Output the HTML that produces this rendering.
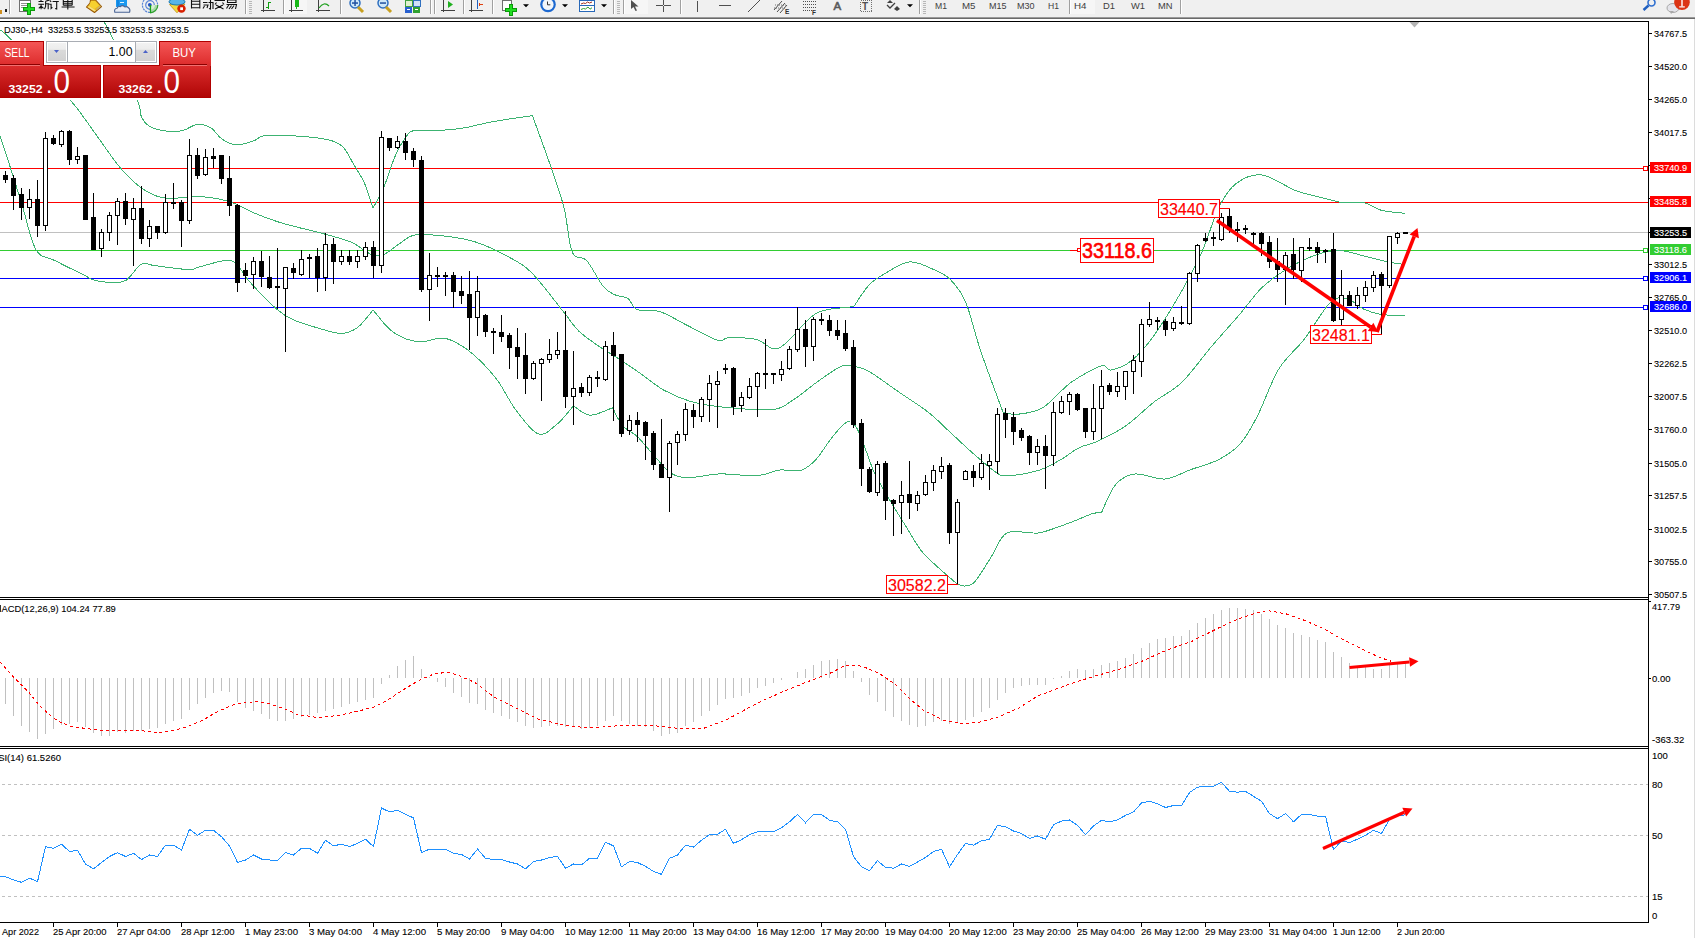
<!DOCTYPE html><html><head><meta charset="utf-8"><title>DJ30-,H4</title><style>
html,body{margin:0;padding:0;width:1695px;height:938px;overflow:hidden;background:#fff}
svg{display:block;position:absolute;left:0;top:0}
text{font-family:"Liberation Sans",sans-serif}
</style></head><body>
<svg width="1695" height="938" viewBox="0 0 1695 938">
<rect x="0" y="0" width="1695" height="938" fill="#ffffff"/>
<g shape-rendering="crispEdges"><rect x="0" y="168" width="1648" height="1" fill="#ff0000"/><rect x="0" y="202" width="1648" height="1" fill="#ff0000"/><rect x="0" y="232" width="1648" height="1" fill="#c0c0c0"/><rect x="0" y="250" width="1648" height="1" fill="#32cd32"/><rect x="0" y="278" width="1648" height="1" fill="#0000ff"/><rect x="0" y="307" width="1648" height="1" fill="#0000ff"/></g>
<g>
<path d="M104.0,22.0 C105.5,24.8 107.2,25.6 112.8,38.7 C118.4,51.8 132.8,87.4 137.6,100.4 C142.4,113.4 139.4,112.3 141.4,116.6 C143.4,120.9 145.5,123.9 149.7,126.3 C153.8,128.7 160.8,130.3 166.3,131.0 C171.8,131.7 177.8,131.6 182.9,130.5 C188.0,129.4 192.2,124.9 196.8,124.4 C201.4,123.9 206.4,125.3 210.6,127.7 C214.8,130.1 217.5,135.9 221.7,138.8 C225.9,141.7 230.2,144.6 235.6,144.9 C241.0,145.2 248.6,142.4 253.9,140.8 C259.2,139.2 257.1,135.7 267.7,135.2 C278.3,134.7 305.4,136.3 317.6,138.0 C329.9,139.7 335.2,141.1 341.2,145.5 C347.2,149.9 349.7,157.9 353.6,164.3 C357.5,170.7 361.5,176.4 364.7,183.7 C367.9,191.0 371.6,204.0 373.0,208.1 C374.9,204.5 380.4,195.2 384.1,186.5 C387.8,177.8 391.5,164.3 395.2,156.0 C398.9,147.7 403.1,140.8 406.3,136.6 C409.5,132.3 409.4,131.5 414.6,130.5 C419.8,129.5 429.2,131.0 437.3,130.6 C445.4,130.2 454.1,129.5 463.4,128.0 C472.7,126.5 481.7,123.6 493.2,121.6 C504.7,119.5 525.9,116.7 532.4,115.7 C535.5,124.3 545.7,151.7 551.0,167.1 C556.3,182.5 560.6,194.0 564.1,208.2 C567.6,222.4 568.6,243.5 572.3,252.2 C576.0,260.9 581.3,254.7 586.5,260.4 C591.7,266.1 598.6,280.8 603.3,286.5 C608.0,292.2 610.8,292.8 614.9,294.8 C619.0,296.8 624.3,296.0 628.0,298.5 C631.7,301.0 632.0,307.5 637.3,309.7 C642.6,311.9 651.6,309.1 659.7,311.6 C667.8,314.1 676.2,319.8 685.8,324.6 C695.4,329.4 710.4,338.1 717.5,340.3 C724.6,342.5 722.2,337.8 728.7,337.7 C735.2,337.6 749.2,337.7 756.7,339.6 C764.2,341.5 768.5,348.4 773.5,348.9 C778.5,349.4 780.7,347.5 786.6,342.5 C792.5,337.5 802.8,324.4 809.0,319.0 C815.2,313.6 816.4,312.4 823.9,310.4 C831.4,308.3 848.7,307.3 853.7,306.7 C856.2,303.1 863.7,290.8 868.7,285.4 C873.7,280.0 876.8,278.2 883.6,274.3 C890.4,270.4 901.0,262.5 909.7,261.9 C918.4,261.3 929.0,267.5 935.8,270.5 C942.6,273.5 945.7,274.6 950.7,279.9 C955.7,285.2 960.7,290.4 965.7,302.2 C970.7,314.0 974.4,332.3 980.6,350.7 C986.8,369.1 999.3,402.0 1003.0,412.3 C1005.5,412.6 1011.2,415.0 1017.9,414.2 C1024.6,413.4 1034.2,412.8 1043.0,407.5 C1051.8,402.2 1061.2,389.4 1070.9,382.5 C1080.6,375.6 1094.7,368.0 1101.4,365.9 C1108.1,363.8 1105.9,370.9 1111.0,370.0 C1116.1,369.1 1124.6,366.2 1131.8,360.4 C1139.0,354.6 1145.7,347.0 1154.0,335.4 C1162.3,323.8 1173.7,304.9 1181.7,291.0 C1189.7,277.1 1195.8,265.7 1202.0,251.7 C1208.2,237.7 1213.4,218.3 1219.1,206.9 C1224.8,195.5 1229.1,188.8 1236.2,183.5 C1243.3,178.2 1251.8,173.7 1261.7,174.9 C1271.7,176.1 1286.0,186.9 1295.9,190.7 C1305.9,194.5 1313.6,195.5 1321.4,197.5 C1329.2,199.5 1335.7,201.8 1342.8,202.6 C1349.9,203.4 1357.7,201.3 1364.1,202.6 C1370.5,203.9 1374.5,208.5 1381.2,210.3 C1388.0,212.1 1400.7,212.8 1404.6,213.3" fill="none" stroke="#3cb371" stroke-width="1" shape-rendering="crispEdges"/>
<path d="M0.0,30.0 C1.7,31.4 -1.5,27.0 10.0,38.5 C21.5,50.0 56.6,85.8 68.8,98.8 C81.0,111.8 78.4,110.4 83.1,116.6 C87.8,122.8 91.0,127.7 97.0,136.0 C103.0,144.3 112.3,158.2 119.2,166.5 C126.1,174.8 132.6,181.1 138.6,185.9 C144.6,190.8 149.7,193.5 155.2,195.6 C160.7,197.7 165.3,198.2 171.8,198.4 C178.3,198.6 186.6,196.5 194.0,196.5 C201.4,196.5 209.3,197.2 216.2,198.4 C223.1,199.6 229.3,201.5 235.6,203.9 C241.9,206.3 247.2,209.9 253.9,212.8 C260.6,215.7 269.1,218.9 276.0,221.2 C282.9,223.5 287.5,224.6 295.4,226.7 C303.2,228.8 313.9,231.0 323.1,233.6 C332.4,236.2 344.4,239.4 350.9,242.0 C357.4,244.6 358.3,246.6 362.0,248.9 C365.7,251.2 371.2,254.7 373.0,255.8 C374.9,255.6 379.9,256.2 384.1,254.4 C388.3,252.6 392.9,247.9 398.0,244.7 C403.1,241.5 407.1,236.4 414.9,235.0 C422.7,233.6 434.9,235.0 444.8,236.1 C454.8,237.2 464.7,238.6 474.6,241.7 C484.5,244.8 495.1,249.8 504.4,254.8 C513.7,259.8 520.5,262.0 530.5,271.6 C540.5,281.2 556.0,302.7 564.1,312.6 C572.2,322.6 573.0,325.6 579.0,331.3 C585.0,337.0 594.0,342.8 600.0,347.0 C606.0,351.2 608.7,352.2 614.9,356.3 C621.1,360.4 629.2,365.7 637.3,371.3 C645.4,376.9 654.7,384.9 663.4,389.9 C672.1,394.9 680.3,398.3 689.6,401.1 C698.9,403.9 705.7,405.3 719.4,406.7 C733.1,408.1 759.2,410.9 771.6,409.7 C784.0,408.5 786.5,403.8 794.0,399.3 C801.5,394.8 808.9,387.8 816.4,382.5 C823.9,377.2 833.2,370.3 838.8,367.5 C844.4,364.7 845.0,365.1 850.0,365.7 C855.0,366.3 860.6,366.9 868.7,371.3 C876.8,375.7 888.5,385.0 898.5,391.8 C908.5,398.6 919.7,405.5 928.4,412.3 C937.1,419.1 943.2,426.0 950.7,432.8 C958.2,439.6 965.6,446.9 973.1,453.4 C980.6,459.9 989.9,468.3 995.5,472.0 C1001.1,475.7 999.7,475.9 1006.7,475.7 C1013.7,475.5 1028.8,473.3 1037.6,470.7 C1046.4,468.1 1052.9,464.0 1059.8,460.2 C1066.7,456.4 1072.7,450.9 1079.2,447.7 C1085.7,444.5 1090.8,444.5 1098.6,440.8 C1106.4,437.1 1117.1,432.0 1126.3,425.5 C1135.5,419.0 1144.8,409.2 1154.0,402.0 C1163.2,394.8 1172.3,391.6 1181.7,382.5 C1191.1,373.4 1200.8,359.1 1210.6,347.6 C1220.4,336.1 1231.9,323.4 1240.4,313.5 C1248.9,303.6 1253.9,295.4 1261.7,287.9 C1269.5,280.4 1278.8,274.0 1287.3,268.7 C1295.8,263.4 1304.4,259.1 1312.9,256.0 C1321.4,252.9 1329.2,250.2 1338.5,250.4 C1347.8,250.6 1359.9,255.2 1368.4,257.2 C1376.9,259.2 1383.7,261.1 1389.7,262.3 C1395.7,263.5 1402.1,264.1 1404.6,264.5" fill="none" stroke="#3cb371" stroke-width="1" shape-rendering="crispEdges"/>
<path d="M0.0,136.0 C1.4,140.2 4.6,149.4 8.3,161.0 C12.0,172.6 17.6,190.5 22.2,205.3 C26.8,220.1 30.5,240.4 36.0,249.7 C41.5,258.9 47.5,256.6 55.4,260.8 C63.2,265.0 76.6,271.4 83.1,274.6 C89.6,277.8 89.6,278.9 94.2,280.2 C98.8,281.5 105.6,282.4 110.9,282.4 C116.2,282.4 121.0,283.2 126.1,280.2 C131.2,277.1 136.6,266.5 141.4,264.1 C146.2,261.7 147.3,264.8 155.2,265.7 C163.0,266.6 181.1,269.4 188.5,269.6 C195.9,269.8 193.1,268.5 199.6,266.9 C206.1,265.3 220.8,260.3 227.3,260.2 C233.8,260.1 234.7,262.8 238.4,266.3 C242.1,269.9 243.1,274.5 249.4,281.5 C255.7,288.5 268.8,302.1 276.0,308.5 C283.2,314.9 285.8,316.4 292.7,319.6 C299.6,322.8 309.5,325.6 317.6,327.9 C325.7,330.2 334.5,333.5 341.2,333.4 C347.9,333.3 352.5,331.2 357.8,327.3 C363.1,323.4 370.5,312.8 373.0,309.9 C375.8,313.1 384.1,324.4 389.7,329.3 C395.2,334.2 400.8,336.9 406.3,339.0 C411.9,341.1 417.2,341.9 423.0,341.7 C428.8,341.5 435.5,337.9 441.0,338.0 C446.5,338.1 450.4,339.5 456.0,342.4 C461.6,345.3 467.8,349.3 474.6,355.5 C481.4,361.7 490.2,370.7 497.0,379.7 C503.8,388.7 508.8,400.6 515.6,409.6 C522.4,418.6 531.1,431.3 538.0,433.8 C544.9,436.3 550.8,429.1 556.7,424.5 C562.6,419.9 570.6,409.0 573.4,405.9 C576.2,407.4 583.7,414.9 590.2,415.2 C596.7,415.5 608.9,408.9 612.6,407.7 C614.2,410.6 618.3,420.6 622.4,425.4 C626.5,430.2 632.3,431.9 637.3,436.6 C642.3,441.3 646.6,447.3 652.2,453.4 C657.8,459.5 664.7,469.1 670.9,473.1 C677.1,477.1 681.5,477.5 689.6,477.6 C697.7,477.7 708.2,474.2 719.4,473.9 C730.6,473.6 746.8,476.3 756.7,475.7 C766.7,475.1 771.6,471.0 779.1,470.1 C786.6,469.2 795.3,472.0 801.5,470.1 C807.7,468.2 811.4,464.3 816.4,459.0 C821.4,453.7 826.3,444.5 831.3,438.4 C836.3,432.3 842.2,424.3 846.3,422.4 C850.4,420.4 852.9,422.4 856.0,426.7 C859.1,431.0 861.9,440.3 865.0,448.0 C868.1,455.7 870.6,464.7 874.5,473.0 C878.4,481.3 883.2,489.0 888.4,497.8 C893.5,506.6 900.0,516.9 905.4,525.6 C910.8,534.4 915.8,543.6 920.9,550.3 C926.0,557.0 931.7,561.4 936.3,565.8 C940.9,570.2 945.2,573.6 948.7,576.6 C952.2,579.6 954.8,582.4 957.5,584.0 C960.2,585.6 962.1,586.4 965.0,586.0 C967.9,585.6 970.5,586.5 975.0,581.5 C979.5,576.5 986.5,564.1 991.8,556.0 C997.1,547.9 999.3,536.8 1007.0,533.0 C1014.7,529.2 1029.5,534.0 1038.0,533.0 C1046.5,532.0 1051.3,529.2 1058.0,527.0 C1064.7,524.8 1072.2,521.8 1078.0,519.5 C1083.8,517.2 1089.1,514.6 1093.0,513.5 C1096.9,512.4 1100.0,512.9 1101.4,512.8 C1103.7,508.2 1109.7,491.6 1115.2,485.1 C1120.7,478.6 1126.3,475.0 1134.6,474.0 C1142.9,473.0 1155.8,479.7 1165.0,479.0 C1174.2,478.3 1181.0,473.2 1190.0,469.9 C1199.0,466.6 1210.7,463.8 1219.1,459.4 C1227.5,455.0 1234.0,450.9 1240.4,443.6 C1246.8,436.4 1251.1,428.3 1257.5,415.9 C1263.9,403.5 1271.0,381.8 1278.8,369.0 C1286.6,356.2 1295.9,350.1 1304.4,339.1 C1312.9,328.1 1322.9,309.6 1330.0,302.9 C1337.1,296.1 1341.3,297.5 1347.0,298.6 C1352.7,299.7 1358.4,306.7 1364.1,309.3 C1369.8,311.9 1374.5,313.3 1381.2,314.4 C1388.0,315.5 1400.7,315.5 1404.6,315.7" fill="none" stroke="#3cb371" stroke-width="1" shape-rendering="crispEdges"/>
</g>
<g shape-rendering="crispEdges"><rect x="5" y="171" width="1" height="12" fill="#000"/><rect x="3" y="175" width="5" height="5" fill="#000"/><rect x="13" y="175" width="1" height="35" fill="#000"/><rect x="11" y="178" width="5" height="18" fill="#000"/><rect x="21" y="188" width="1" height="32" fill="#000"/><rect x="19" y="194" width="5" height="14" fill="#000"/><rect x="29" y="189" width="1" height="30" fill="#000"/><rect x="27" y="199" width="5" height="9" fill="#000"/><rect x="28" y="200" width="3" height="7" fill="#fff"/><rect x="37" y="180" width="1" height="57" fill="#000"/><rect x="35" y="199" width="5" height="27" fill="#000"/><rect x="45" y="132" width="1" height="99" fill="#000"/><rect x="43" y="138" width="5" height="88" fill="#000"/><rect x="44" y="139" width="3" height="86" fill="#fff"/><rect x="53" y="135" width="1" height="10" fill="#000"/><rect x="51" y="138" width="5" height="6" fill="#000"/><rect x="61" y="130" width="1" height="17" fill="#000"/><rect x="59" y="131" width="5" height="14" fill="#000"/><rect x="60" y="132" width="3" height="12" fill="#fff"/><rect x="69" y="130" width="1" height="35" fill="#000"/><rect x="67" y="131" width="5" height="29" fill="#000"/><rect x="77" y="147" width="1" height="17" fill="#000"/><rect x="75" y="156" width="5" height="4" fill="#000"/><rect x="76" y="157" width="3" height="2" fill="#fff"/><rect x="85" y="155" width="1" height="65" fill="#000"/><rect x="83" y="155" width="5" height="65" fill="#000"/><rect x="93" y="193" width="1" height="57" fill="#000"/><rect x="91" y="217" width="5" height="33" fill="#000"/><rect x="101" y="229" width="1" height="28" fill="#000"/><rect x="99" y="232" width="5" height="17" fill="#000"/><rect x="100" y="233" width="3" height="15" fill="#fff"/><rect x="109" y="212" width="1" height="29" fill="#000"/><rect x="107" y="215" width="5" height="18" fill="#000"/><rect x="108" y="216" width="3" height="16" fill="#fff"/><rect x="117" y="198" width="1" height="47" fill="#000"/><rect x="115" y="201" width="5" height="15" fill="#000"/><rect x="116" y="202" width="3" height="13" fill="#fff"/><rect x="125" y="193" width="1" height="32" fill="#000"/><rect x="123" y="201" width="5" height="18" fill="#000"/><rect x="133" y="198" width="1" height="68" fill="#000"/><rect x="131" y="208" width="5" height="12" fill="#000"/><rect x="132" y="209" width="3" height="10" fill="#fff"/><rect x="141" y="186" width="1" height="58" fill="#000"/><rect x="139" y="208" width="5" height="31" fill="#000"/><rect x="149" y="220" width="1" height="27" fill="#000"/><rect x="147" y="226" width="5" height="13" fill="#000"/><rect x="148" y="227" width="3" height="11" fill="#fff"/><rect x="157" y="226" width="1" height="13" fill="#000"/><rect x="155" y="226" width="5" height="7" fill="#000"/><rect x="165" y="194" width="1" height="40" fill="#000"/><rect x="163" y="202" width="5" height="31" fill="#000"/><rect x="164" y="203" width="3" height="29" fill="#fff"/><rect x="173" y="183" width="1" height="26" fill="#000"/><rect x="171" y="202" width="5" height="2" fill="#000"/><rect x="181" y="200" width="1" height="47" fill="#000"/><rect x="179" y="202" width="5" height="19" fill="#000"/><rect x="189" y="139" width="1" height="85" fill="#000"/><rect x="187" y="155" width="5" height="66" fill="#000"/><rect x="188" y="156" width="3" height="64" fill="#fff"/><rect x="197" y="148" width="1" height="31" fill="#000"/><rect x="195" y="155" width="5" height="21" fill="#000"/><rect x="205" y="149" width="1" height="27" fill="#000"/><rect x="203" y="157" width="5" height="18" fill="#000"/><rect x="204" y="158" width="3" height="16" fill="#fff"/><rect x="213" y="148" width="1" height="20" fill="#000"/><rect x="211" y="156" width="5" height="3" fill="#000"/><rect x="221" y="155" width="1" height="29" fill="#000"/><rect x="219" y="155" width="5" height="24" fill="#000"/><rect x="229" y="156" width="1" height="60" fill="#000"/><rect x="227" y="178" width="5" height="28" fill="#000"/><rect x="237" y="204" width="1" height="88" fill="#000"/><rect x="235" y="205" width="5" height="78" fill="#000"/><rect x="245" y="263" width="1" height="20" fill="#000"/><rect x="243" y="270" width="5" height="6" fill="#000"/><rect x="253" y="257" width="1" height="32" fill="#000"/><rect x="251" y="261" width="5" height="14" fill="#000"/><rect x="252" y="262" width="3" height="12" fill="#fff"/><rect x="261" y="251" width="1" height="36" fill="#000"/><rect x="259" y="261" width="5" height="16" fill="#000"/><rect x="269" y="256" width="1" height="33" fill="#000"/><rect x="267" y="277" width="5" height="11" fill="#000"/><rect x="277" y="248" width="1" height="61" fill="#000"/><rect x="275" y="286" width="5" height="2" fill="#000"/><rect x="285" y="267" width="1" height="85" fill="#000"/><rect x="283" y="267" width="5" height="22" fill="#000"/><rect x="284" y="268" width="3" height="20" fill="#fff"/><rect x="293" y="263" width="1" height="16" fill="#000"/><rect x="291" y="268" width="5" height="5" fill="#000"/><rect x="301" y="250" width="1" height="26" fill="#000"/><rect x="299" y="259" width="5" height="16" fill="#000"/><rect x="300" y="260" width="3" height="14" fill="#fff"/><rect x="309" y="254" width="1" height="24" fill="#000"/><rect x="307" y="257" width="5" height="2" fill="#000"/><rect x="317" y="248" width="1" height="44" fill="#000"/><rect x="315" y="256" width="5" height="22" fill="#000"/><rect x="325" y="233" width="1" height="58" fill="#000"/><rect x="323" y="244" width="5" height="34" fill="#000"/><rect x="324" y="245" width="3" height="32" fill="#fff"/><rect x="333" y="238" width="1" height="46" fill="#000"/><rect x="331" y="244" width="5" height="18" fill="#000"/><rect x="341" y="250" width="1" height="15" fill="#000"/><rect x="339" y="256" width="5" height="6" fill="#000"/><rect x="340" y="257" width="3" height="4" fill="#fff"/><rect x="349" y="250" width="1" height="15" fill="#000"/><rect x="347" y="256" width="5" height="6" fill="#000"/><rect x="357" y="250" width="1" height="18" fill="#000"/><rect x="355" y="256" width="5" height="6" fill="#000"/><rect x="356" y="257" width="3" height="4" fill="#fff"/><rect x="365" y="242" width="1" height="18" fill="#000"/><rect x="363" y="247" width="5" height="10" fill="#000"/><rect x="364" y="248" width="3" height="8" fill="#fff"/><rect x="373" y="241" width="1" height="37" fill="#000"/><rect x="371" y="247" width="5" height="19" fill="#000"/><rect x="381" y="131" width="1" height="142" fill="#000"/><rect x="379" y="137" width="5" height="129" fill="#000"/><rect x="380" y="138" width="3" height="127" fill="#fff"/><rect x="389" y="138" width="1" height="13" fill="#000"/><rect x="387" y="138" width="5" height="10" fill="#000"/><rect x="397" y="136" width="1" height="13" fill="#000"/><rect x="395" y="141" width="5" height="7" fill="#000"/><rect x="396" y="142" width="3" height="5" fill="#fff"/><rect x="405" y="133" width="1" height="27" fill="#000"/><rect x="403" y="141" width="5" height="12" fill="#000"/><rect x="413" y="148" width="1" height="19" fill="#000"/><rect x="411" y="151" width="5" height="9" fill="#000"/><rect x="421" y="156" width="1" height="136" fill="#000"/><rect x="419" y="160" width="5" height="130" fill="#000"/><rect x="429" y="253" width="1" height="68" fill="#000"/><rect x="427" y="275" width="5" height="15" fill="#000"/><rect x="428" y="276" width="3" height="13" fill="#fff"/><rect x="437" y="267" width="1" height="20" fill="#000"/><rect x="435" y="275" width="5" height="2" fill="#000"/><rect x="445" y="272" width="1" height="24" fill="#000"/><rect x="443" y="275" width="5" height="2" fill="#000"/><rect x="453" y="272" width="1" height="36" fill="#000"/><rect x="451" y="275" width="5" height="17" fill="#000"/><rect x="461" y="276" width="1" height="28" fill="#000"/><rect x="459" y="291" width="5" height="5" fill="#000"/><rect x="469" y="271" width="1" height="79" fill="#000"/><rect x="467" y="294" width="5" height="24" fill="#000"/><rect x="477" y="276" width="1" height="60" fill="#000"/><rect x="475" y="291" width="5" height="27" fill="#000"/><rect x="476" y="292" width="3" height="25" fill="#fff"/><rect x="485" y="314" width="1" height="23" fill="#000"/><rect x="483" y="315" width="5" height="17" fill="#000"/><rect x="493" y="328" width="1" height="26" fill="#000"/><rect x="491" y="331" width="5" height="2" fill="#000"/><rect x="501" y="315" width="1" height="27" fill="#000"/><rect x="499" y="332" width="5" height="5" fill="#000"/><rect x="509" y="333" width="1" height="36" fill="#000"/><rect x="507" y="335" width="5" height="13" fill="#000"/><rect x="517" y="328" width="1" height="51" fill="#000"/><rect x="515" y="347" width="5" height="10" fill="#000"/><rect x="525" y="333" width="1" height="61" fill="#000"/><rect x="523" y="355" width="5" height="24" fill="#000"/><rect x="533" y="361" width="1" height="19" fill="#000"/><rect x="531" y="363" width="5" height="16" fill="#000"/><rect x="532" y="364" width="3" height="14" fill="#fff"/><rect x="541" y="358" width="1" height="43" fill="#000"/><rect x="539" y="359" width="5" height="5" fill="#000"/><rect x="540" y="360" width="3" height="3" fill="#fff"/><rect x="549" y="339" width="1" height="24" fill="#000"/><rect x="547" y="354" width="5" height="6" fill="#000"/><rect x="548" y="355" width="3" height="4" fill="#fff"/><rect x="557" y="332" width="1" height="27" fill="#000"/><rect x="555" y="350" width="5" height="5" fill="#000"/><rect x="556" y="351" width="3" height="3" fill="#fff"/><rect x="565" y="311" width="1" height="97" fill="#000"/><rect x="563" y="350" width="5" height="47" fill="#000"/><rect x="573" y="351" width="1" height="74" fill="#000"/><rect x="571" y="388" width="5" height="9" fill="#000"/><rect x="572" y="389" width="3" height="7" fill="#fff"/><rect x="581" y="383" width="1" height="14" fill="#000"/><rect x="579" y="387" width="5" height="6" fill="#000"/><rect x="589" y="375" width="1" height="21" fill="#000"/><rect x="587" y="377" width="5" height="16" fill="#000"/><rect x="588" y="378" width="3" height="14" fill="#fff"/><rect x="597" y="371" width="1" height="16" fill="#000"/><rect x="595" y="377" width="5" height="2" fill="#000"/><rect x="605" y="341" width="1" height="40" fill="#000"/><rect x="603" y="346" width="5" height="34" fill="#000"/><rect x="604" y="347" width="3" height="32" fill="#fff"/><rect x="613" y="332" width="1" height="89" fill="#000"/><rect x="611" y="345" width="5" height="11" fill="#000"/><rect x="621" y="354" width="1" height="83" fill="#000"/><rect x="619" y="354" width="5" height="80" fill="#000"/><rect x="629" y="415" width="1" height="20" fill="#000"/><rect x="627" y="420" width="5" height="11" fill="#000"/><rect x="628" y="421" width="3" height="9" fill="#fff"/><rect x="637" y="412" width="1" height="30" fill="#000"/><rect x="635" y="420" width="5" height="5" fill="#000"/><rect x="645" y="421" width="1" height="39" fill="#000"/><rect x="643" y="422" width="5" height="14" fill="#000"/><rect x="653" y="431" width="1" height="39" fill="#000"/><rect x="651" y="433" width="5" height="32" fill="#000"/><rect x="661" y="419" width="1" height="59" fill="#000"/><rect x="659" y="464" width="5" height="14" fill="#000"/><rect x="669" y="441" width="1" height="71" fill="#000"/><rect x="667" y="443" width="5" height="35" fill="#000"/><rect x="668" y="444" width="3" height="33" fill="#fff"/><rect x="677" y="431" width="1" height="34" fill="#000"/><rect x="675" y="434" width="5" height="9" fill="#000"/><rect x="676" y="435" width="3" height="7" fill="#fff"/><rect x="685" y="403" width="1" height="38" fill="#000"/><rect x="683" y="409" width="5" height="26" fill="#000"/><rect x="684" y="410" width="3" height="24" fill="#fff"/><rect x="693" y="404" width="1" height="24" fill="#000"/><rect x="691" y="410" width="5" height="7" fill="#000"/><rect x="701" y="397" width="1" height="25" fill="#000"/><rect x="699" y="399" width="5" height="18" fill="#000"/><rect x="700" y="400" width="3" height="16" fill="#fff"/><rect x="709" y="375" width="1" height="47" fill="#000"/><rect x="707" y="383" width="5" height="17" fill="#000"/><rect x="708" y="384" width="3" height="15" fill="#fff"/><rect x="717" y="371" width="1" height="57" fill="#000"/><rect x="715" y="381" width="5" height="4" fill="#000"/><rect x="716" y="382" width="3" height="2" fill="#fff"/><rect x="725" y="364" width="1" height="10" fill="#000"/><rect x="723" y="368" width="5" height="2" fill="#000"/><rect x="733" y="367" width="1" height="48" fill="#000"/><rect x="731" y="368" width="5" height="39" fill="#000"/><rect x="741" y="392" width="1" height="20" fill="#000"/><rect x="739" y="397" width="5" height="9" fill="#000"/><rect x="740" y="398" width="3" height="7" fill="#fff"/><rect x="749" y="378" width="1" height="21" fill="#000"/><rect x="747" y="386" width="5" height="12" fill="#000"/><rect x="748" y="387" width="3" height="10" fill="#fff"/><rect x="757" y="372" width="1" height="45" fill="#000"/><rect x="755" y="373" width="5" height="14" fill="#000"/><rect x="756" y="374" width="3" height="12" fill="#fff"/><rect x="765" y="339" width="1" height="50" fill="#000"/><rect x="763" y="373" width="5" height="2" fill="#000"/><rect x="773" y="373" width="1" height="11" fill="#000"/><rect x="771" y="373" width="5" height="2" fill="#000"/><rect x="781" y="361" width="1" height="20" fill="#000"/><rect x="779" y="369" width="5" height="6" fill="#000"/><rect x="780" y="370" width="3" height="4" fill="#fff"/><rect x="789" y="346" width="1" height="24" fill="#000"/><rect x="787" y="349" width="5" height="20" fill="#000"/><rect x="788" y="350" width="3" height="18" fill="#fff"/><rect x="797" y="307" width="1" height="45" fill="#000"/><rect x="795" y="329" width="5" height="21" fill="#000"/><rect x="796" y="330" width="3" height="19" fill="#fff"/><rect x="805" y="320" width="1" height="47" fill="#000"/><rect x="803" y="329" width="5" height="18" fill="#000"/><rect x="813" y="317" width="1" height="44" fill="#000"/><rect x="811" y="319" width="5" height="28" fill="#000"/><rect x="812" y="320" width="3" height="26" fill="#fff"/><rect x="821" y="313" width="1" height="12" fill="#000"/><rect x="819" y="319" width="5" height="2" fill="#000"/><rect x="829" y="315" width="1" height="21" fill="#000"/><rect x="827" y="320" width="5" height="11" fill="#000"/><rect x="837" y="320" width="1" height="20" fill="#000"/><rect x="835" y="330" width="5" height="6" fill="#000"/><rect x="845" y="320" width="1" height="31" fill="#000"/><rect x="843" y="333" width="5" height="16" fill="#000"/><rect x="853" y="340" width="1" height="88" fill="#000"/><rect x="851" y="347" width="5" height="78" fill="#000"/><rect x="861" y="419" width="1" height="67" fill="#000"/><rect x="859" y="423" width="5" height="46" fill="#000"/><rect x="869" y="467" width="1" height="26" fill="#000"/><rect x="867" y="469" width="5" height="23" fill="#000"/><rect x="877" y="461" width="1" height="35" fill="#000"/><rect x="875" y="464" width="5" height="29" fill="#000"/><rect x="876" y="465" width="3" height="27" fill="#fff"/><rect x="885" y="461" width="1" height="59" fill="#000"/><rect x="883" y="463" width="5" height="38" fill="#000"/><rect x="893" y="499" width="1" height="37" fill="#000"/><rect x="891" y="500" width="5" height="4" fill="#000"/><rect x="901" y="481" width="1" height="53" fill="#000"/><rect x="899" y="495" width="5" height="8" fill="#000"/><rect x="900" y="496" width="3" height="6" fill="#fff"/><rect x="909" y="461" width="1" height="58" fill="#000"/><rect x="907" y="494" width="5" height="9" fill="#000"/><rect x="917" y="491" width="1" height="20" fill="#000"/><rect x="915" y="495" width="5" height="9" fill="#000"/><rect x="916" y="496" width="3" height="7" fill="#fff"/><rect x="925" y="475" width="1" height="21" fill="#000"/><rect x="923" y="482" width="5" height="13" fill="#000"/><rect x="924" y="483" width="3" height="11" fill="#fff"/><rect x="933" y="465" width="1" height="26" fill="#000"/><rect x="931" y="470" width="5" height="13" fill="#000"/><rect x="932" y="471" width="3" height="11" fill="#fff"/><rect x="941" y="457" width="1" height="22" fill="#000"/><rect x="939" y="466" width="5" height="6" fill="#000"/><rect x="940" y="467" width="3" height="4" fill="#fff"/><rect x="949" y="463" width="1" height="81" fill="#000"/><rect x="947" y="465" width="5" height="68" fill="#000"/><rect x="957" y="499" width="1" height="86" fill="#000"/><rect x="955" y="502" width="5" height="31" fill="#000"/><rect x="956" y="503" width="3" height="29" fill="#fff"/><rect x="965" y="470" width="1" height="10" fill="#000"/><rect x="963" y="471" width="5" height="9" fill="#000"/><rect x="964" y="472" width="3" height="7" fill="#fff"/><rect x="973" y="465" width="1" height="22" fill="#000"/><rect x="971" y="471" width="5" height="7" fill="#000"/><rect x="981" y="454" width="1" height="26" fill="#000"/><rect x="979" y="463" width="5" height="15" fill="#000"/><rect x="980" y="464" width="3" height="13" fill="#fff"/><rect x="989" y="454" width="1" height="36" fill="#000"/><rect x="987" y="461" width="5" height="5" fill="#000"/><rect x="988" y="462" width="3" height="3" fill="#fff"/><rect x="997" y="408" width="1" height="66" fill="#000"/><rect x="995" y="414" width="5" height="48" fill="#000"/><rect x="996" y="415" width="3" height="46" fill="#fff"/><rect x="1005" y="408" width="1" height="30" fill="#000"/><rect x="1003" y="413" width="5" height="7" fill="#000"/><rect x="1013" y="412" width="1" height="33" fill="#000"/><rect x="1011" y="417" width="5" height="15" fill="#000"/><rect x="1021" y="428" width="1" height="13" fill="#000"/><rect x="1019" y="430" width="5" height="8" fill="#000"/><rect x="1029" y="435" width="1" height="30" fill="#000"/><rect x="1027" y="436" width="5" height="17" fill="#000"/><rect x="1037" y="439" width="1" height="26" fill="#000"/><rect x="1035" y="446" width="5" height="7" fill="#000"/><rect x="1036" y="447" width="3" height="5" fill="#fff"/><rect x="1045" y="435" width="1" height="54" fill="#000"/><rect x="1043" y="446" width="5" height="10" fill="#000"/><rect x="1053" y="402" width="1" height="64" fill="#000"/><rect x="1051" y="412" width="5" height="44" fill="#000"/><rect x="1052" y="413" width="3" height="42" fill="#fff"/><rect x="1061" y="396" width="1" height="18" fill="#000"/><rect x="1059" y="401" width="5" height="12" fill="#000"/><rect x="1060" y="402" width="3" height="10" fill="#fff"/><rect x="1069" y="392" width="1" height="23" fill="#000"/><rect x="1067" y="394" width="5" height="8" fill="#000"/><rect x="1068" y="395" width="3" height="6" fill="#fff"/><rect x="1077" y="393" width="1" height="18" fill="#000"/><rect x="1075" y="394" width="5" height="16" fill="#000"/><rect x="1085" y="408" width="1" height="30" fill="#000"/><rect x="1083" y="408" width="5" height="24" fill="#000"/><rect x="1093" y="384" width="1" height="56" fill="#000"/><rect x="1091" y="408" width="5" height="24" fill="#000"/><rect x="1092" y="409" width="3" height="22" fill="#fff"/><rect x="1101" y="370" width="1" height="69" fill="#000"/><rect x="1099" y="386" width="5" height="23" fill="#000"/><rect x="1100" y="387" width="3" height="21" fill="#fff"/><rect x="1109" y="383" width="1" height="12" fill="#000"/><rect x="1107" y="385" width="5" height="7" fill="#000"/><rect x="1117" y="372" width="1" height="25" fill="#000"/><rect x="1115" y="386" width="5" height="6" fill="#000"/><rect x="1116" y="387" width="3" height="4" fill="#fff"/><rect x="1125" y="371" width="1" height="29" fill="#000"/><rect x="1123" y="371" width="5" height="16" fill="#000"/><rect x="1124" y="372" width="3" height="14" fill="#fff"/><rect x="1133" y="355" width="1" height="39" fill="#000"/><rect x="1131" y="360" width="5" height="12" fill="#000"/><rect x="1132" y="361" width="3" height="10" fill="#fff"/><rect x="1141" y="319" width="1" height="58" fill="#000"/><rect x="1139" y="324" width="5" height="38" fill="#000"/><rect x="1140" y="325" width="3" height="36" fill="#fff"/><rect x="1149" y="302" width="1" height="25" fill="#000"/><rect x="1147" y="319" width="5" height="6" fill="#000"/><rect x="1148" y="320" width="3" height="4" fill="#fff"/><rect x="1157" y="317" width="1" height="13" fill="#000"/><rect x="1155" y="320" width="5" height="2" fill="#000"/><rect x="1165" y="319" width="1" height="17" fill="#000"/><rect x="1163" y="321" width="5" height="9" fill="#000"/><rect x="1173" y="317" width="1" height="14" fill="#000"/><rect x="1171" y="322" width="5" height="7" fill="#000"/><rect x="1172" y="323" width="3" height="5" fill="#fff"/><rect x="1181" y="306" width="1" height="19" fill="#000"/><rect x="1179" y="322" width="5" height="2" fill="#000"/><rect x="1189" y="272" width="1" height="53" fill="#000"/><rect x="1187" y="273" width="5" height="51" fill="#000"/><rect x="1188" y="274" width="3" height="49" fill="#fff"/><rect x="1197" y="244" width="1" height="38" fill="#000"/><rect x="1195" y="245" width="5" height="29" fill="#000"/><rect x="1196" y="246" width="3" height="27" fill="#fff"/><rect x="1205" y="233" width="1" height="9" fill="#000"/><rect x="1203" y="238" width="5" height="3" fill="#000"/><rect x="1213" y="232" width="1" height="14" fill="#000"/><rect x="1211" y="237" width="5" height="2" fill="#000"/><rect x="1221" y="213" width="1" height="28" fill="#000"/><rect x="1219" y="217" width="5" height="23" fill="#000"/><rect x="1220" y="218" width="3" height="21" fill="#fff"/><rect x="1229" y="209" width="1" height="24" fill="#000"/><rect x="1227" y="216" width="5" height="14" fill="#000"/><rect x="1237" y="222" width="1" height="20" fill="#000"/><rect x="1235" y="229" width="5" height="2" fill="#000"/><rect x="1245" y="225" width="1" height="9" fill="#000"/><rect x="1243" y="228" width="5" height="2" fill="#000"/><rect x="1253" y="232" width="1" height="13" fill="#000"/><rect x="1251" y="233" width="5" height="2" fill="#000"/><rect x="1261" y="232" width="1" height="24" fill="#000"/><rect x="1259" y="233" width="5" height="11" fill="#000"/><rect x="1269" y="236" width="1" height="32" fill="#000"/><rect x="1267" y="242" width="5" height="20" fill="#000"/><rect x="1277" y="238" width="1" height="44" fill="#000"/><rect x="1275" y="261" width="5" height="9" fill="#000"/><rect x="1285" y="252" width="1" height="53" fill="#000"/><rect x="1283" y="255" width="5" height="15" fill="#000"/><rect x="1284" y="256" width="3" height="13" fill="#fff"/><rect x="1293" y="238" width="1" height="41" fill="#000"/><rect x="1291" y="254" width="5" height="16" fill="#000"/><rect x="1301" y="247" width="1" height="35" fill="#000"/><rect x="1299" y="247" width="5" height="24" fill="#000"/><rect x="1300" y="248" width="3" height="22" fill="#fff"/><rect x="1309" y="238" width="1" height="13" fill="#000"/><rect x="1307" y="247" width="5" height="2" fill="#000"/><rect x="1317" y="242" width="1" height="21" fill="#000"/><rect x="1315" y="247" width="5" height="6" fill="#000"/><rect x="1325" y="249" width="1" height="14" fill="#000"/><rect x="1323" y="250" width="5" height="2" fill="#000"/><rect x="1333" y="233" width="1" height="89" fill="#000"/><rect x="1331" y="249" width="5" height="72" fill="#000"/><rect x="1341" y="270" width="1" height="56" fill="#000"/><rect x="1339" y="295" width="5" height="25" fill="#000"/><rect x="1340" y="296" width="3" height="23" fill="#fff"/><rect x="1349" y="291" width="1" height="15" fill="#000"/><rect x="1347" y="295" width="5" height="11" fill="#000"/><rect x="1357" y="287" width="1" height="22" fill="#000"/><rect x="1355" y="295" width="5" height="11" fill="#000"/><rect x="1356" y="296" width="3" height="9" fill="#fff"/><rect x="1365" y="281" width="1" height="21" fill="#000"/><rect x="1363" y="287" width="5" height="9" fill="#000"/><rect x="1364" y="288" width="3" height="7" fill="#fff"/><rect x="1373" y="271" width="1" height="21" fill="#000"/><rect x="1371" y="275" width="5" height="13" fill="#000"/><rect x="1372" y="276" width="3" height="11" fill="#fff"/><rect x="1381" y="272" width="1" height="63" fill="#000"/><rect x="1379" y="274" width="5" height="12" fill="#000"/><rect x="1389" y="236" width="1" height="52" fill="#000"/><rect x="1387" y="236" width="5" height="50" fill="#000"/><rect x="1388" y="237" width="3" height="48" fill="#fff"/><rect x="1397" y="232" width="1" height="12" fill="#000"/><rect x="1395" y="233" width="5" height="5" fill="#000"/><rect x="1396" y="234" width="3" height="3" fill="#fff"/><rect x="1405" y="232" width="1" height="2" fill="#000"/><rect x="1403" y="232" width="5" height="2" fill="#000"/></g>
<g fill="#fff" stroke-width="1" shape-rendering="crispEdges"><rect x="1643.5" y="166.5" width="4" height="4" stroke="#ff0000"/><rect x="1643.5" y="248.5" width="4" height="4" stroke="#32cd32"/><rect x="1643.5" y="276.5" width="4" height="4" stroke="#0000ff"/><rect x="1643.5" y="305.5" width="4" height="4" stroke="#0000ff"/></g>
<g shape-rendering="crispEdges" fill="#c0c0c0"><rect x="5" y="678" width="1" height="26"/><rect x="13" y="678" width="1" height="38"/><rect x="21" y="678" width="1" height="48"/><rect x="29" y="678" width="1" height="54"/><rect x="37" y="678" width="1" height="61"/><rect x="45" y="678" width="1" height="56"/><rect x="53" y="678" width="1" height="51"/><rect x="61" y="678" width="1" height="47"/><rect x="69" y="678" width="1" height="46"/><rect x="77" y="678" width="1" height="44"/><rect x="85" y="678" width="1" height="49"/><rect x="93" y="678" width="1" height="55"/><rect x="101" y="678" width="1" height="58"/><rect x="109" y="678" width="1" height="58"/><rect x="117" y="678" width="1" height="54"/><rect x="125" y="678" width="1" height="55"/><rect x="133" y="678" width="1" height="53"/><rect x="141" y="678" width="1" height="53"/><rect x="149" y="678" width="1" height="51"/><rect x="157" y="678" width="1" height="50"/><rect x="165" y="678" width="1" height="46"/><rect x="173" y="678" width="1" height="43"/><rect x="181" y="678" width="1" height="41"/><rect x="189" y="678" width="1" height="32"/><rect x="197" y="678" width="1" height="26"/><rect x="205" y="678" width="1" height="20"/><rect x="213" y="678" width="1" height="15"/><rect x="221" y="678" width="1" height="13"/><rect x="229" y="678" width="1" height="14"/><rect x="237" y="678" width="1" height="24"/><rect x="245" y="678" width="1" height="30"/><rect x="253" y="678" width="1" height="33"/><rect x="261" y="678" width="1" height="36"/><rect x="269" y="678" width="1" height="41"/><rect x="277" y="678" width="1" height="43"/><rect x="285" y="678" width="1" height="43"/><rect x="293" y="678" width="1" height="41"/><rect x="301" y="678" width="1" height="39"/><rect x="309" y="678" width="1" height="37"/><rect x="317" y="678" width="1" height="35"/><rect x="325" y="678" width="1" height="33"/><rect x="333" y="678" width="1" height="31"/><rect x="341" y="678" width="1" height="29"/><rect x="349" y="678" width="1" height="26"/><rect x="357" y="678" width="1" height="24"/><rect x="365" y="678" width="1" height="22"/><rect x="373" y="678" width="1" height="20"/><rect x="381" y="678" width="1" height="6"/><rect x="389" y="675" width="1" height="3"/><rect x="397" y="666" width="1" height="12"/><rect x="405" y="660" width="1" height="18"/><rect x="413" y="656" width="1" height="22"/><rect x="421" y="669" width="1" height="9"/><rect x="429" y="677" width="1" height="1"/><rect x="437" y="678" width="1" height="4"/><rect x="445" y="678" width="1" height="9"/><rect x="453" y="678" width="1" height="15"/><rect x="461" y="678" width="1" height="19"/><rect x="469" y="678" width="1" height="25"/><rect x="477" y="678" width="1" height="26"/><rect x="485" y="678" width="1" height="32"/><rect x="493" y="678" width="1" height="35"/><rect x="501" y="678" width="1" height="38"/><rect x="509" y="678" width="1" height="41"/><rect x="517" y="678" width="1" height="44"/><rect x="525" y="678" width="1" height="48"/><rect x="533" y="678" width="1" height="50"/><rect x="541" y="678" width="1" height="49"/><rect x="549" y="678" width="1" height="48"/><rect x="557" y="678" width="1" height="48"/><rect x="565" y="678" width="1" height="49"/><rect x="573" y="678" width="1" height="49"/><rect x="581" y="678" width="1" height="51"/><rect x="589" y="678" width="1" height="50"/><rect x="597" y="678" width="1" height="48"/><rect x="605" y="678" width="1" height="43"/><rect x="613" y="678" width="1" height="38"/><rect x="621" y="678" width="1" height="43"/><rect x="629" y="678" width="1" height="46"/><rect x="637" y="678" width="1" height="48"/><rect x="645" y="678" width="1" height="49"/><rect x="653" y="678" width="1" height="53"/><rect x="661" y="678" width="1" height="58"/><rect x="669" y="678" width="1" height="56"/><rect x="677" y="678" width="1" height="55"/><rect x="685" y="678" width="1" height="48"/><rect x="693" y="678" width="1" height="44"/><rect x="701" y="678" width="1" height="38"/><rect x="709" y="678" width="1" height="33"/><rect x="717" y="678" width="1" height="27"/><rect x="725" y="678" width="1" height="21"/><rect x="733" y="678" width="1" height="20"/><rect x="741" y="678" width="1" height="18"/><rect x="749" y="678" width="1" height="15"/><rect x="757" y="678" width="1" height="10"/><rect x="765" y="678" width="1" height="8"/><rect x="773" y="678" width="1" height="5"/><rect x="781" y="678" width="1" height="2"/><rect x="797" y="672" width="1" height="6"/><rect x="805" y="669" width="1" height="9"/><rect x="813" y="665" width="1" height="13"/><rect x="821" y="661" width="1" height="17"/><rect x="829" y="660" width="1" height="18"/><rect x="837" y="659" width="1" height="19"/><rect x="845" y="661" width="1" height="17"/><rect x="853" y="671" width="1" height="7"/><rect x="861" y="678" width="1" height="4"/><rect x="869" y="678" width="1" height="17"/><rect x="877" y="678" width="1" height="24"/><rect x="885" y="678" width="1" height="33"/><rect x="893" y="678" width="1" height="39"/><rect x="901" y="678" width="1" height="43"/><rect x="909" y="678" width="1" height="47"/><rect x="917" y="678" width="1" height="49"/><rect x="925" y="678" width="1" height="48"/><rect x="933" y="678" width="1" height="44"/><rect x="941" y="678" width="1" height="43"/><rect x="949" y="678" width="1" height="46"/><rect x="957" y="678" width="1" height="45"/><rect x="965" y="678" width="1" height="42"/><rect x="973" y="678" width="1" height="39"/><rect x="981" y="678" width="1" height="34"/><rect x="989" y="678" width="1" height="30"/><rect x="997" y="678" width="1" height="22"/><rect x="1005" y="678" width="1" height="15"/><rect x="1013" y="678" width="1" height="10"/><rect x="1021" y="678" width="1" height="8"/><rect x="1029" y="678" width="1" height="7"/><rect x="1037" y="678" width="1" height="7"/><rect x="1045" y="678" width="1" height="7"/><rect x="1053" y="678" width="1" height="1"/><rect x="1061" y="676" width="1" height="2"/><rect x="1069" y="671" width="1" height="7"/><rect x="1077" y="669" width="1" height="9"/><rect x="1085" y="670" width="1" height="8"/><rect x="1093" y="669" width="1" height="9"/><rect x="1101" y="665" width="1" height="13"/><rect x="1109" y="663" width="1" height="15"/><rect x="1117" y="661" width="1" height="17"/><rect x="1125" y="658" width="1" height="20"/><rect x="1133" y="654" width="1" height="24"/><rect x="1141" y="648" width="1" height="30"/><rect x="1149" y="643" width="1" height="35"/><rect x="1157" y="639" width="1" height="39"/><rect x="1165" y="638" width="1" height="40"/><rect x="1173" y="636" width="1" height="42"/><rect x="1181" y="636" width="1" height="42"/><rect x="1189" y="630" width="1" height="48"/><rect x="1197" y="623" width="1" height="55"/><rect x="1205" y="618" width="1" height="60"/><rect x="1213" y="614" width="1" height="64"/><rect x="1221" y="610" width="1" height="68"/><rect x="1229" y="608" width="1" height="70"/><rect x="1237" y="608" width="1" height="70"/><rect x="1245" y="609" width="1" height="69"/><rect x="1253" y="610" width="1" height="68"/><rect x="1261" y="614" width="1" height="64"/><rect x="1269" y="619" width="1" height="59"/><rect x="1277" y="625" width="1" height="53"/><rect x="1285" y="628" width="1" height="50"/><rect x="1293" y="633" width="1" height="45"/><rect x="1301" y="635" width="1" height="43"/><rect x="1309" y="637" width="1" height="41"/><rect x="1317" y="640" width="1" height="38"/><rect x="1325" y="642" width="1" height="36"/><rect x="1333" y="652" width="1" height="26"/><rect x="1341" y="657" width="1" height="21"/><rect x="1349" y="663" width="1" height="15"/><rect x="1357" y="666" width="1" height="12"/><rect x="1365" y="667" width="1" height="11"/><rect x="1373" y="669" width="1" height="9"/><rect x="1381" y="669" width="1" height="9"/><rect x="1389" y="664" width="1" height="14"/><rect x="1397" y="663" width="1" height="15"/><rect x="1405" y="662" width="1" height="16"/></g>
<polyline points="0.0,662.0 1.2,663.0 13.6,677.3 29.7,693.4 39.6,705.8 52.0,717.0 62.0,723.0 70.6,726.3 86.7,728.6 99.0,730.0 124.0,730.6 143.7,731.0 158.6,733.0 173.4,730.6 188.3,726.3 203.2,719.9 215.6,712.5 235.4,704.0 255.2,701.6 270.0,704.0 285.0,709.0 297.3,714.5 317.0,717.4 337.0,715.7 356.8,711.5 374.1,707.0 386.5,700.8 401.4,690.9 420.0,679.8 434.8,673.6 449.6,672.3 459.6,676.0 474.4,682.2 494.2,697.1 519.0,709.5 538.8,719.4 563.6,724.9 588.4,728.1 620.6,725.6 652.8,725.6 682.5,728.8 702.4,728.8 727.2,719.4 756.9,703.3 781.7,692.2 806.4,682.2 832.4,672.3 844.8,665.4 862.1,666.1 879.5,673.6 894.3,683.5 909.2,698.3 924.0,710.7 943.9,720.6 963.7,723.9 981.0,721.9 998.4,716.9 1018.2,708.3 1038.0,695.9 1057.9,688.4 1075.2,682.2 1092.5,676.8 1117.3,669.9 1142.1,661.2 1166.9,650.0 1191.6,641.4 1216.4,629.0 1232.5,621.5 1244.9,616.6 1254.8,613.4 1269.6,610.9 1287.0,614.1 1304.3,620.3 1324.2,629.0 1339.0,637.6 1358.8,647.6 1378.7,657.0 1391.0,661.2" fill="none" stroke="#ff0000" stroke-width="1" shape-rendering="crispEdges" stroke-dasharray="3,3"/>
<g shape-rendering="crispEdges"><line x1="2" y1="784.5" x2="1648" y2="784.5" stroke="#c0c0c0" stroke-width="1" stroke-dasharray="3,3"/><line x1="2" y1="835.5" x2="1648" y2="835.5" stroke="#c0c0c0" stroke-width="1" stroke-dasharray="3,3"/><line x1="2" y1="896.5" x2="1648" y2="896.5" stroke="#c0c0c0" stroke-width="1" stroke-dasharray="3,3"/></g>
<polyline points="0.0,876.3 5.5,876.8 13.5,879.8 21.5,882.3 29.5,878.1 37.5,881.8 45.5,846.6 53.5,848.3 61.5,844.1 69.5,851.6 77.5,850.1 85.5,864.0 93.5,868.9 101.5,862.5 109.5,856.5 117.5,852.6 125.5,856.5 133.5,853.3 141.5,859.5 149.5,855.0 157.5,856.5 165.5,845.1 173.5,845.1 181.5,850.1 189.5,829.3 197.5,835.2 205.5,830.3 213.5,830.3 221.5,836.7 229.5,845.9 237.5,862.5 245.5,860.0 253.5,855.0 261.5,859.0 269.5,860.0 277.5,860.7 285.5,852.6 293.5,855.0 301.5,848.3 309.5,848.3 317.5,853.3 325.5,840.2 333.5,845.9 341.5,844.1 349.5,846.6 357.5,843.4 365.5,839.2 373.5,846.6 381.5,808.0 389.5,811.9 397.5,810.4 405.5,814.4 413.5,817.9 421.5,852.6 429.5,849.1 437.5,849.1 445.5,849.1 453.5,853.3 461.5,854.5 469.5,859.0 477.5,849.1 485.5,858.3 493.5,859.5 501.5,859.5 509.5,862.0 517.5,864.0 525.5,868.9 533.5,861.5 541.5,860.0 549.5,857.5 557.5,856.5 565.5,868.2 573.5,864.0 581.5,865.0 589.5,858.3 597.5,858.3 605.5,842.2 613.5,845.9 621.5,866.9 629.5,861.5 637.5,862.5 645.5,866.4 653.5,871.4 661.5,874.4 669.5,858.3 677.5,855.0 685.5,845.1 693.5,847.1 701.5,840.2 709.5,834.7 717.5,834.2 725.5,829.3 733.5,843.4 741.5,839.7 749.5,834.7 757.5,831.7 765.5,831.7 773.5,831.7 781.5,827.8 789.5,821.8 797.5,814.4 805.5,822.8 813.5,814.4 821.5,814.4 829.5,820.3 837.5,821.8 845.5,829.3 853.5,856.5 861.5,866.9 869.5,870.6 877.5,860.7 885.5,867.4 893.5,868.2 901.5,864.0 909.5,866.4 917.5,862.0 925.5,857.5 933.5,851.6 941.5,849.1 949.5,866.9 957.5,854.5 965.5,843.4 973.5,845.1 981.5,840.9 989.5,839.2 997.5,825.3 1005.5,826.8 1013.5,831.0 1021.5,833.5 1029.5,838.4 1037.5,836.0 1045.5,839.2 1053.5,824.8 1061.5,821.1 1069.5,819.9 1077.5,825.3 1085.5,834.7 1093.5,826.0 1101.5,820.3 1109.5,821.8 1117.5,819.9 1125.5,815.4 1133.5,811.9 1141.5,803.0 1149.5,801.3 1157.5,803.7 1165.5,807.5 1173.5,805.5 1181.5,805.5 1189.5,792.6 1197.5,787.1 1205.5,786.4 1213.5,786.4 1221.5,782.2 1229.5,791.4 1237.5,792.1 1245.5,791.4 1253.5,796.3 1261.5,801.3 1269.5,813.7 1277.5,818.6 1285.5,813.7 1293.5,821.8 1301.5,814.4 1309.5,814.4 1317.5,816.1 1325.5,816.1 1333.5,849.6 1341.5,840.9 1349.5,842.6 1357.5,839.2 1365.5,835.2 1373.5,830.3 1381.5,833.5 1389.5,819.4 1397.5,815.4 1405.5,814.9" fill="none" stroke="#1e90ff" stroke-width="1" shape-rendering="crispEdges" />
<g shape-rendering="crispEdges" fill="#000"><rect x="0" y="21" width="1649" height="1"/><rect x="1648" y="21" width="1" height="902"/><rect x="0" y="597" width="1648" height="1"/><rect x="0" y="599" width="1648" height="1"/><rect x="0" y="746" width="1648" height="1"/><rect x="0" y="748" width="1648" height="1"/><rect x="0" y="922" width="1649" height="1"/></g>
<g><rect x="1649" y="33" width="3" height="1" fill="#000" shape-rendering="crispEdges"/><text x="1654" y="36.5" font-size="9.5" fill="#000" textLength="33" lengthAdjust="spacingAndGlyphs"  stroke="#000" stroke-width="0.1">34767.5</text><rect x="1649" y="66" width="3" height="1" fill="#000" shape-rendering="crispEdges"/><text x="1654" y="69.5" font-size="9.5" fill="#000" textLength="33" lengthAdjust="spacingAndGlyphs"  stroke="#000" stroke-width="0.1">34520.0</text><rect x="1649" y="99" width="3" height="1" fill="#000" shape-rendering="crispEdges"/><text x="1654" y="102.5" font-size="9.5" fill="#000" textLength="33" lengthAdjust="spacingAndGlyphs"  stroke="#000" stroke-width="0.1">34265.0</text><rect x="1649" y="132" width="3" height="1" fill="#000" shape-rendering="crispEdges"/><text x="1654" y="135.5" font-size="9.5" fill="#000" textLength="33" lengthAdjust="spacingAndGlyphs"  stroke="#000" stroke-width="0.1">34017.5</text><rect x="1649" y="165" width="3" height="1" fill="#000" shape-rendering="crispEdges"/><text x="1654" y="168.5" font-size="9.5" fill="#000" textLength="33" lengthAdjust="spacingAndGlyphs"  stroke="#000" stroke-width="0.1">33762.5</text><rect x="1649" y="198" width="3" height="1" fill="#000" shape-rendering="crispEdges"/><text x="1654" y="201.5" font-size="9.5" fill="#000" textLength="33" lengthAdjust="spacingAndGlyphs"  stroke="#000" stroke-width="0.1">33515.0</text><rect x="1649" y="232" width="3" height="1" fill="#000" shape-rendering="crispEdges"/><text x="1654" y="235.5" font-size="9.5" fill="#000" textLength="33" lengthAdjust="spacingAndGlyphs"  stroke="#000" stroke-width="0.1">33260.0</text><rect x="1649" y="264" width="3" height="1" fill="#000" shape-rendering="crispEdges"/><text x="1654" y="267.5" font-size="9.5" fill="#000" textLength="33" lengthAdjust="spacingAndGlyphs"  stroke="#000" stroke-width="0.1">33012.5</text><rect x="1649" y="297" width="3" height="1" fill="#000" shape-rendering="crispEdges"/><text x="1654" y="300.5" font-size="9.5" fill="#000" textLength="33" lengthAdjust="spacingAndGlyphs"  stroke="#000" stroke-width="0.1">32765.0</text><rect x="1649" y="330" width="3" height="1" fill="#000" shape-rendering="crispEdges"/><text x="1654" y="333.5" font-size="9.5" fill="#000" textLength="33" lengthAdjust="spacingAndGlyphs"  stroke="#000" stroke-width="0.1">32510.0</text><rect x="1649" y="363" width="3" height="1" fill="#000" shape-rendering="crispEdges"/><text x="1654" y="366.5" font-size="9.5" fill="#000" textLength="33" lengthAdjust="spacingAndGlyphs"  stroke="#000" stroke-width="0.1">32262.5</text><rect x="1649" y="396" width="3" height="1" fill="#000" shape-rendering="crispEdges"/><text x="1654" y="399.5" font-size="9.5" fill="#000" textLength="33" lengthAdjust="spacingAndGlyphs"  stroke="#000" stroke-width="0.1">32007.5</text><rect x="1649" y="429" width="3" height="1" fill="#000" shape-rendering="crispEdges"/><text x="1654" y="432.5" font-size="9.5" fill="#000" textLength="33" lengthAdjust="spacingAndGlyphs"  stroke="#000" stroke-width="0.1">31760.0</text><rect x="1649" y="463" width="3" height="1" fill="#000" shape-rendering="crispEdges"/><text x="1654" y="466.5" font-size="9.5" fill="#000" textLength="33" lengthAdjust="spacingAndGlyphs"  stroke="#000" stroke-width="0.1">31505.0</text><rect x="1649" y="495" width="3" height="1" fill="#000" shape-rendering="crispEdges"/><text x="1654" y="498.5" font-size="9.5" fill="#000" textLength="33" lengthAdjust="spacingAndGlyphs"  stroke="#000" stroke-width="0.1">31257.5</text><rect x="1649" y="529" width="3" height="1" fill="#000" shape-rendering="crispEdges"/><text x="1654" y="532.5" font-size="9.5" fill="#000" textLength="33" lengthAdjust="spacingAndGlyphs"  stroke="#000" stroke-width="0.1">31002.5</text><rect x="1649" y="561" width="3" height="1" fill="#000" shape-rendering="crispEdges"/><text x="1654" y="564.5" font-size="9.5" fill="#000" textLength="33" lengthAdjust="spacingAndGlyphs"  stroke="#000" stroke-width="0.1">30755.0</text><rect x="1649" y="594" width="3" height="1" fill="#000" shape-rendering="crispEdges"/><text x="1654" y="597.5" font-size="9.5" fill="#000" textLength="33" lengthAdjust="spacingAndGlyphs"  stroke="#000" stroke-width="0.1">30507.5</text><rect x="1650" y="162" width="41" height="11" fill="#ff0000" shape-rendering="crispEdges"/><text x="1654" y="171" font-size="9.5" fill="#fff" textLength="33" lengthAdjust="spacingAndGlyphs"  stroke="#fff" stroke-width="0.1">33740.9</text><rect x="1650" y="196" width="41" height="11" fill="#ff0000" shape-rendering="crispEdges"/><text x="1654" y="205" font-size="9.5" fill="#fff" textLength="33" lengthAdjust="spacingAndGlyphs"  stroke="#fff" stroke-width="0.1">33485.8</text><rect x="1650" y="227" width="41" height="11" fill="#000000" shape-rendering="crispEdges"/><text x="1654" y="236" font-size="9.5" fill="#fff" textLength="33" lengthAdjust="spacingAndGlyphs"  stroke="#fff" stroke-width="0.1">33253.5</text><rect x="1650" y="244" width="41" height="11" fill="#32cd32" shape-rendering="crispEdges"/><text x="1654" y="253" font-size="9.5" fill="#fff" textLength="33" lengthAdjust="spacingAndGlyphs"  stroke="#fff" stroke-width="0.1">33118.6</text><rect x="1650" y="272" width="41" height="11" fill="#0000ff" shape-rendering="crispEdges"/><text x="1654" y="281" font-size="9.5" fill="#fff" textLength="33" lengthAdjust="spacingAndGlyphs"  stroke="#fff" stroke-width="0.1">32906.1</text><rect x="1650" y="301" width="41" height="11" fill="#0000ff" shape-rendering="crispEdges"/><text x="1654" y="310" font-size="9.5" fill="#fff" textLength="33" lengthAdjust="spacingAndGlyphs"  stroke="#fff" stroke-width="0.1">32686.0</text></g>
<g><rect x="1649" y="601" width="2" height="1" fill="#000" shape-rendering="crispEdges"/><rect x="1649" y="678" width="2" height="1" fill="#000" shape-rendering="crispEdges"/><text x="1652" y="610" font-size="9.5" fill="#000" textLength="28" lengthAdjust="spacingAndGlyphs"  stroke="#000" stroke-width="0.1">417.79</text><text x="1652" y="682" font-size="9.5" fill="#000"  stroke="#000" stroke-width="0.1">0.00</text><text x="1652" y="742.5" font-size="9.5" fill="#000"  stroke="#000" stroke-width="0.1">-363.32</text><text x="1652" y="759.3" font-size="9.5" fill="#000"  stroke="#000" stroke-width="0.1">100</text><text x="1652" y="787.8" font-size="9.5" fill="#000"  stroke="#000" stroke-width="0.1">80</text><text x="1652" y="838.9" font-size="9.5" fill="#000"  stroke="#000" stroke-width="0.1">50</text><text x="1652" y="900.1" font-size="9.5" fill="#000"  stroke="#000" stroke-width="0.1">15</text><text x="1652" y="918.7" font-size="9.5" fill="#000"  stroke="#000" stroke-width="0.1">0</text></g>
<g><text x="2" y="934.8" font-size="9.5" fill="#000" textLength="37" lengthAdjust="spacingAndGlyphs"  stroke="#000" stroke-width="0.1">Apr 2022</text><rect x="53" y="923" width="1" height="4" fill="#000" shape-rendering="crispEdges"/><text x="53" y="934.8" font-size="9.5" fill="#000" textLength="53.5" lengthAdjust="spacingAndGlyphs"  stroke="#000" stroke-width="0.1">25 Apr 20:00</text><rect x="117" y="923" width="1" height="4" fill="#000" shape-rendering="crispEdges"/><text x="117" y="934.8" font-size="9.5" fill="#000" textLength="53.5" lengthAdjust="spacingAndGlyphs"  stroke="#000" stroke-width="0.1">27 Apr 04:00</text><rect x="181" y="923" width="1" height="4" fill="#000" shape-rendering="crispEdges"/><text x="181" y="934.8" font-size="9.5" fill="#000" textLength="53.5" lengthAdjust="spacingAndGlyphs"  stroke="#000" stroke-width="0.1">28 Apr 12:00</text><rect x="245" y="923" width="1" height="4" fill="#000" shape-rendering="crispEdges"/><text x="245" y="934.8" font-size="9.5" fill="#000" textLength="53" lengthAdjust="spacingAndGlyphs"  stroke="#000" stroke-width="0.1">1 May 23:00</text><rect x="309" y="923" width="1" height="4" fill="#000" shape-rendering="crispEdges"/><text x="309" y="934.8" font-size="9.5" fill="#000" textLength="53" lengthAdjust="spacingAndGlyphs"  stroke="#000" stroke-width="0.1">3 May 04:00</text><rect x="373" y="923" width="1" height="4" fill="#000" shape-rendering="crispEdges"/><text x="373" y="934.8" font-size="9.5" fill="#000" textLength="53" lengthAdjust="spacingAndGlyphs"  stroke="#000" stroke-width="0.1">4 May 12:00</text><rect x="437" y="923" width="1" height="4" fill="#000" shape-rendering="crispEdges"/><text x="437" y="934.8" font-size="9.5" fill="#000" textLength="53" lengthAdjust="spacingAndGlyphs"  stroke="#000" stroke-width="0.1">5 May 20:00</text><rect x="501" y="923" width="1" height="4" fill="#000" shape-rendering="crispEdges"/><text x="501" y="934.8" font-size="9.5" fill="#000" textLength="53" lengthAdjust="spacingAndGlyphs"  stroke="#000" stroke-width="0.1">9 May 04:00</text><rect x="565" y="923" width="1" height="4" fill="#000" shape-rendering="crispEdges"/><text x="565" y="934.8" font-size="9.5" fill="#000" textLength="57.7" lengthAdjust="spacingAndGlyphs"  stroke="#000" stroke-width="0.1">10 May 12:00</text><rect x="629" y="923" width="1" height="4" fill="#000" shape-rendering="crispEdges"/><text x="629" y="934.8" font-size="9.5" fill="#000" textLength="57.7" lengthAdjust="spacingAndGlyphs"  stroke="#000" stroke-width="0.1">11 May 20:00</text><rect x="693" y="923" width="1" height="4" fill="#000" shape-rendering="crispEdges"/><text x="693" y="934.8" font-size="9.5" fill="#000" textLength="57.7" lengthAdjust="spacingAndGlyphs"  stroke="#000" stroke-width="0.1">13 May 04:00</text><rect x="757" y="923" width="1" height="4" fill="#000" shape-rendering="crispEdges"/><text x="757" y="934.8" font-size="9.5" fill="#000" textLength="57.7" lengthAdjust="spacingAndGlyphs"  stroke="#000" stroke-width="0.1">16 May 12:00</text><rect x="821" y="923" width="1" height="4" fill="#000" shape-rendering="crispEdges"/><text x="821" y="934.8" font-size="9.5" fill="#000" textLength="57.7" lengthAdjust="spacingAndGlyphs"  stroke="#000" stroke-width="0.1">17 May 20:00</text><rect x="885" y="923" width="1" height="4" fill="#000" shape-rendering="crispEdges"/><text x="885" y="934.8" font-size="9.5" fill="#000" textLength="57.7" lengthAdjust="spacingAndGlyphs"  stroke="#000" stroke-width="0.1">19 May 04:00</text><rect x="949" y="923" width="1" height="4" fill="#000" shape-rendering="crispEdges"/><text x="949" y="934.8" font-size="9.5" fill="#000" textLength="57.7" lengthAdjust="spacingAndGlyphs"  stroke="#000" stroke-width="0.1">20 May 12:00</text><rect x="1013" y="923" width="1" height="4" fill="#000" shape-rendering="crispEdges"/><text x="1013" y="934.8" font-size="9.5" fill="#000" textLength="57.7" lengthAdjust="spacingAndGlyphs"  stroke="#000" stroke-width="0.1">23 May 20:00</text><rect x="1077" y="923" width="1" height="4" fill="#000" shape-rendering="crispEdges"/><text x="1077" y="934.8" font-size="9.5" fill="#000" textLength="57.7" lengthAdjust="spacingAndGlyphs"  stroke="#000" stroke-width="0.1">25 May 04:00</text><rect x="1141" y="923" width="1" height="4" fill="#000" shape-rendering="crispEdges"/><text x="1141" y="934.8" font-size="9.5" fill="#000" textLength="57.7" lengthAdjust="spacingAndGlyphs"  stroke="#000" stroke-width="0.1">26 May 12:00</text><rect x="1205" y="923" width="1" height="4" fill="#000" shape-rendering="crispEdges"/><text x="1205" y="934.8" font-size="9.5" fill="#000" textLength="57.7" lengthAdjust="spacingAndGlyphs"  stroke="#000" stroke-width="0.1">29 May 23:00</text><rect x="1269" y="923" width="1" height="4" fill="#000" shape-rendering="crispEdges"/><text x="1269" y="934.8" font-size="9.5" fill="#000" textLength="57.7" lengthAdjust="spacingAndGlyphs"  stroke="#000" stroke-width="0.1">31 May 04:00</text><rect x="1333" y="923" width="1" height="4" fill="#000" shape-rendering="crispEdges"/><text x="1333" y="934.8" font-size="9.5" fill="#000" textLength="47.5" lengthAdjust="spacingAndGlyphs"  stroke="#000" stroke-width="0.1">1 Jun 12:00</text><rect x="1397" y="923" width="1" height="4" fill="#000" shape-rendering="crispEdges"/><text x="1397" y="934.8" font-size="9.5" fill="#000" textLength="47.5" lengthAdjust="spacingAndGlyphs"  stroke="#000" stroke-width="0.1">2 Jun 20:00</text></g>
<text x="4" y="33" font-size="9.5" fill="#000" textLength="185" lengthAdjust="spacingAndGlyphs" xml:space="preserve" stroke="#000" stroke-width="0.1">DJ30-,H4  33253.5 33253.5 33253.5 33253.5</text>
<text x="1.5" y="612" font-size="9.5" fill="#000" textLength="114.3" lengthAdjust="spacingAndGlyphs"  stroke="#000" stroke-width="0.1">ACD(12,26,9) 104.24 77.89</text>
<rect x="0" y="605" width="1" height="7" fill="#000" opacity="0.8"/>
<text x="61" y="761" font-size="9.5" fill="#000" text-anchor="end"  stroke="#000" stroke-width="0.1">RSI(14) 61.5260</text>
<g><rect x="1158.5" y="199.5" width="61" height="18" fill="#fff" stroke="#ff0000" stroke-width="1" shape-rendering="crispEdges"/><text x="1189.0" y="214.8" font-size="16" fill="#ff0000" text-anchor="middle" textLength="58" lengthAdjust="spacingAndGlyphs"  stroke="#ff0000" stroke-width="0.15">33440.7</text><rect x="1220" y="208" width="10" height="1" fill="#ff0000" shape-rendering="crispEdges"/><rect x="1080.5" y="238.5" width="73" height="24" fill="#fff" stroke="#ff0000" stroke-width="1" shape-rendering="crispEdges"/><text x="1117.0" y="258.4" font-size="21.2" fill="#ff0000" text-anchor="middle" textLength="70" lengthAdjust="spacingAndGlyphs"  stroke="#ff0000" stroke-width="0.6">33118.6</text><rect x="1070" y="250" width="8" height="1" fill="#ff0000" shape-rendering="crispEdges"/><rect x="1077.5" y="248.5" width="3" height="3" fill="#fff" stroke="#ff0000" shape-rendering="crispEdges"/><rect x="886.5" y="575.5" width="61" height="18" fill="#fff" stroke="#ff0000" stroke-width="1" shape-rendering="crispEdges"/><text x="917.0" y="590.8" font-size="16" fill="#ff0000" text-anchor="middle" textLength="58" lengthAdjust="spacingAndGlyphs"  stroke="#ff0000" stroke-width="0.15">30582.2</text><rect x="948" y="584" width="10" height="1" fill="#ff0000" shape-rendering="crispEdges"/><rect x="1310.5" y="325.5" width="61" height="18" fill="#fff" stroke="#ff0000" stroke-width="1" shape-rendering="crispEdges"/><text x="1341.0" y="340.8" font-size="16" fill="#ff0000" text-anchor="middle" textLength="58" lengthAdjust="spacingAndGlyphs"  stroke="#ff0000" stroke-width="0.15">32481.1</text><rect x="1372" y="334" width="10" height="1" fill="#ff0000" shape-rendering="crispEdges"/></g>
<line x1="1217" y1="220.5" x2="1370.6" y2="326.9" stroke="#ff0000" stroke-width="3.6"/><polygon points="1378,332 1367.8,331.0 1373.4,322.8" fill="#ff0000"/>
<line x1="1377" y1="332" x2="1414.2" y2="236.4" stroke="#ff0000" stroke-width="3.6"/><polygon points="1417.5,228 1418.9,238.2 1409.6,234.6" fill="#ff0000"/>
<line x1="1349.5" y1="667.5" x2="1409.5" y2="662.0" stroke="#ff0000" stroke-width="3.2"/><polygon points="1418.5,661.2 1410.0,666.8 1409.1,657.2" fill="#ff0000"/>
<line x1="1323" y1="848.5" x2="1404.3" y2="812.2" stroke="#ff0000" stroke-width="3.2"/><polygon points="1412.5,808.5 1406.2,816.6 1402.3,807.8" fill="#ff0000"/>
<defs><linearGradient id="gTop" x1="0" y1="0" x2="0" y2="1"><stop offset="0" stop-color="#f45656"/><stop offset="1" stop-color="#de2e2e"/></linearGradient><linearGradient id="gBot" x1="0" y1="0" x2="0" y2="1"><stop offset="0" stop-color="#da2c2c"/><stop offset="1" stop-color="#b00606"/></linearGradient><linearGradient id="gBtn" x1="0" y1="0" x2="0" y2="1"><stop offset="0" stop-color="#f2f2f2"/><stop offset="0.35" stop-color="#ececec"/><stop offset="0.4" stop-color="#dadada"/><stop offset="1" stop-color="#d2d2d2"/></linearGradient></defs>
<g shape-rendering="crispEdges"><rect x="0" y="40" width="212" height="60" fill="#fff"/><rect x="0" y="41" width="44" height="25" fill="#b00000"/><rect x="0" y="42" width="43" height="22" fill="url(#gTop)"/><rect x="0" y="64" width="40" height="1" fill="#8a0000"/><rect x="0" y="65" width="40" height="1" fill="#f07070"/><rect x="159" y="41" width="52" height="25" fill="#b00000"/><rect x="160" y="42" width="51" height="22" fill="url(#gTop)"/><rect x="163" y="64" width="44" height="1" fill="#8a0000"/><rect x="163" y="65" width="44" height="1" fill="#f07070"/><rect x="0" y="65" width="101" height="33" fill="#b00000"/><rect x="0" y="66" width="100" height="31" fill="url(#gBot)"/><rect x="103" y="65" width="108" height="33" fill="#b00000"/><rect x="104" y="66" width="106" height="31" fill="url(#gBot)"/><rect x="0" y="64" width="43" height="2" fill="#d83030"/><rect x="0" y="64" width="40" height="1" fill="#8a0000"/><rect x="0" y="65" width="40" height="1" fill="#f07070"/><rect x="160" y="64" width="51" height="2" fill="#d83030"/><rect x="163" y="64" width="44" height="1" fill="#8a0000"/><rect x="163" y="65" width="44" height="1" fill="#f07070"/><rect x="46" y="41" width="111" height="22" fill="#a9adb4"/><rect x="47" y="42" width="109" height="20" fill="#fff"/><rect x="48" y="43" width="18" height="18" fill="url(#gBtn)"/><rect x="67" y="42" width="1" height="20" fill="#a9adb4"/><rect x="135" y="42" width="1" height="20" fill="#a9adb4"/><rect x="136" y="43" width="19" height="18" fill="url(#gBtn)"/></g><polygon points="54,50 59,50 56.5,53" fill="#4a62c8"/><polygon points="143,53 148,53 145.5,50" fill="#4a62c8"/><text x="4.5" y="57" font-size="12" fill="#ffffff" textLength="25" lengthAdjust="spacingAndGlyphs" >SELL</text><text x="172.5" y="57" font-size="12" fill="#ffffff" textLength="23.5" lengthAdjust="spacingAndGlyphs" >BUY</text><text x="132.5" y="55.8" font-size="12" fill="#000000" text-anchor="end" textLength="24" lengthAdjust="spacingAndGlyphs" >1.00</text><text x="8.5" y="92.5" font-size="11.5" fill="#ffffff" font-weight="bold" textLength="34" lengthAdjust="spacingAndGlyphs" >33252</text><text x="118.5" y="92.5" font-size="11.5" fill="#ffffff" font-weight="bold" textLength="34" lengthAdjust="spacingAndGlyphs" >33262</text><text x="47" y="92.5" font-size="16" fill="#ffffff" font-weight="bold" >.</text><text x="157" y="92.5" font-size="16" fill="#ffffff" font-weight="bold" >.</text><text x="53.5" y="92.6" font-size="35" fill="#ffffff" textLength="16.5" lengthAdjust="spacingAndGlyphs" >0</text><text x="163.5" y="92.6" font-size="35" fill="#ffffff" textLength="16.5" lengthAdjust="spacingAndGlyphs" >0</text>
<polygon points="1409.5,22 1419.5,22 1414.5,27.5" fill="#b4b4b4"/>
<rect x="0" y="0" width="1695" height="17" fill="#f0f0f0"/>
<rect x="0" y="17" width="1695" height="1" fill="#9a9a9a"/>
<rect x="0" y="18" width="1695" height="1" fill="#6a6a6a"/>
<g shape-rendering="crispEdges"><rect x="0" y="10" width="2" height="4" fill="#d09020"/><rect x="5" y="9" width="2" height="3" fill="#202020"/><rect x="9" y="0" width="1" height="14" fill="#a0a0a0"/><rect x="10" y="0" width="1" height="14" fill="#ffffff"/><rect x="19" y="0" width="11" height="11" fill="#ffffff" stroke="#707070" stroke-width="1"/><rect x="21" y="3" width="6" height="1" fill="#909090"/><rect x="21" y="5" width="6" height="1" fill="#909090"/><rect x="21" y="7" width="4" height="1" fill="#909090"/><rect x="27" y="3" width="4" height="12" fill="#0a9a0a"/><rect x="23" y="7" width="12" height="4" fill="#0a9a0a"/><rect x="28" y="4" width="2" height="10" fill="#22dd22"/><rect x="24" y="8" width="10" height="2" fill="#22dd22"/></g><g stroke="#111" stroke-width="1.1" fill="none"><path d="M38.5 1.5h5M41 0v1.5M38.3 4.2h5.8M41.1 4.2v5M38.8 8.3l2.2-2.2M43.5 8.3l-2.4-2.2M45.6 1.2v5.3l-1.1 2.6M45.6 3.7h3.6M48.2 3.7v5.5M45.6 1.2l3.4-1"/><path d="M49.6 0.3l1.6 1.5M49.2 4.2h1.9v4.3l1.3-1.1M52.6 1.5h6.2M56.7 1.5v7.4l-1.6-0.5"/><path d="M63.3 0v5.2M72.2 0v5.2M63.3 1.5h8.9M63.3 3.3h8.9M63.3 5.1h8.9M61.6 7h13M67.8 0v9.4"/></g><polygon points="90.5,0 95.5,0 101.5,6.5 94.5,12.5 86.5,7 90,3" fill="#e8b820" stroke="#9a5a08" stroke-width="1.1" stroke-linejoin="round"/><polygon points="91,1 95,1 99,5.5 94,9 89,6" fill="#f6d030"/><polygon points="87.5,7 94.5,11.5 96,10.5 89,6" fill="#f8e080"/><polygon points="97,10 101,6.5 100,5.5 96,9" fill="#c8b070"/><rect x="116" y="0" width="11" height="7" fill="#1a98f0"/><rect x="117.5" y="0" width="1" height="6" fill="#0a70d0"/><rect x="120" y="2" width="4" height="1" fill="#e0f2ff"/><path d="M114.8 12.3 Q113.8 8.6 117 8.3 Q117.6 6.2 120.3 6.6 Q122.2 4.6 124.8 6.9 Q127 6 128.5 7.8 Q130.6 9.3 129.6 12.3 Z" fill="#e8ecf4" stroke="#4a6494" stroke-width="1.1"/><g fill="none"><path d="M150 12.5 A7.6 7.6 0 1 1 157.6 5" stroke="#5a86d8" stroke-width="1.2" stroke-dasharray="2.2,0.8"/><path d="M150 9.3 A4.3 4.3 0 1 1 154.3 5" stroke="#3a6ed0" stroke-width="1.2" opacity="0.8"/></g><path d="M150 5 L157.8 5 A7.8 7.8 0 0 1 150 12.8 Z" fill="#a8d8a8"/><path d="M150 5 L155 5 A5 5 0 0 1 150 10 Z" fill="#d8f0d0"/><path d="M157.8 5 A7.8 7.8 0 0 1 150 12.8" fill="none" stroke="#30a030" stroke-width="1.2"/><circle cx="149.8" cy="4.8" r="1.9" fill="#2050c8"/><rect x="149.8" y="5" width="1.3" height="8" fill="#18a018"/><polygon points="169.5,4.5 185,4 177,12.8" fill="#f2d840" stroke="#c09010" stroke-width="0.8"/><ellipse cx="177" cy="1.8" rx="8" ry="3.2" fill="#58b4e8" stroke="#1a7ab0" stroke-width="1"/><circle cx="181.5" cy="8.6" r="4.2" fill="#d82000"/><rect x="180.2" y="7.3" width="2.8" height="2.8" fill="#fff"/><g stroke="#111" stroke-width="1.1" fill="none"><path d="M191.5 0v8.4M199.8 0v8.4M191.5 1.2h8.3M191.5 4.3h8.3M191.5 7.8h8.3"/><path d="M203 2.5h4.5M203.5 5h4.5l-1 3M204.5 6l-1.5 2.5M210.5 0v9l-1.5-0.5M208.5 2.5h4.5v6.5"/><path d="M214.5 0.5h10.5M216.5 2.5l-1.5 2M222.5 2.5l1.5 2M216 5l7.5 4M223 5l-8 4"/><path d="M227.5 0h8.5v2.5h-8.5zM226.5 4.5h10l-1 4.5M229 4.5l-2.5 4M231.5 5.5l-2.5 3.5M234 5.5l-2.5 3.5"/></g><g shape-rendering="crispEdges"><rect x="245" y="0" width="1" height="14" fill="#a0a0a0"/><rect x="246" y="0" width="1" height="14" fill="#ffffff"/><rect x="249" y="1" width="3" height="1" fill="#b8b8b8"/><rect x="249" y="3" width="3" height="1" fill="#b8b8b8"/><rect x="249" y="5" width="3" height="1" fill="#b8b8b8"/><rect x="249" y="7" width="3" height="1" fill="#b8b8b8"/><rect x="249" y="9" width="3" height="1" fill="#b8b8b8"/><rect x="249" y="11" width="3" height="1" fill="#b8b8b8"/><rect x="249" y="13" width="3" height="1" fill="#b8b8b8"/><rect x="263" y="0" width="1" height="12" fill="#404040"/><rect x="261" y="10" width="14" height="1" fill="#404040"/><rect x="268" y="2" width="1" height="7" fill="#10a010"/><rect x="269" y="2" width="2" height="1" fill="#10a010"/><rect x="266" y="7" width="2" height="1" fill="#10a010"/><rect x="283" y="0" width="1" height="14" fill="#a0a0a0"/><rect x="284" y="0" width="1" height="14" fill="#ffffff"/><rect x="285" y="0" width="22" height="14" fill="#f6f6f6"/><rect x="291" y="0" width="1" height="12" fill="#404040"/><rect x="289" y="10" width="14" height="1" fill="#404040"/><rect x="295" y="0" width="4" height="7" fill="#18b818"/><rect x="296" y="7" width="1" height="2" fill="#18b818"/><rect x="318" y="0" width="1" height="12" fill="#404040"/><rect x="316" y="10" width="14" height="1" fill="#404040"/></g><path d="M319 8 Q324 1 329 6" fill="none" stroke="#20a020" stroke-width="1.2"/><g shape-rendering="crispEdges"><rect x="340" y="0" width="1" height="14" fill="#a0a0a0"/><rect x="341" y="0" width="1" height="14" fill="#ffffff"/></g><circle cx="355" cy="3" r="5" fill="#cfe8f8" stroke="#3070c0" stroke-width="1.5"/><line x1="358" y1="7" x2="363" y2="12" stroke="#c8a020" stroke-width="3"/><rect x="352" y="2.3" width="6" height="1.5" fill="#2050a0"/><rect x="354.3" y="0" width="1.5" height="6" fill="#2050a0"/><circle cx="383" cy="3" r="5" fill="#cfe8f8" stroke="#3070c0" stroke-width="1.5"/><line x1="386" y1="7" x2="391" y2="12" stroke="#c8a020" stroke-width="3"/><rect x="380" y="2.3" width="6" height="1.5" fill="#2050a0"/><g shape-rendering="crispEdges"><rect x="405" y="0" width="7" height="6" fill="#e0f0d0" stroke="#40a040"/><rect x="413" y="0" width="7" height="6" fill="#d0e0f8" stroke="#3070c0"/><rect x="405" y="7" width="7" height="6" fill="#2860d0"/><rect x="413" y="7" width="7" height="6" fill="#30a030"/><rect x="407" y="9" width="3" height="1" fill="#fff"/><rect x="415" y="9" width="3" height="1" fill="#fff"/></g><g shape-rendering="crispEdges"><rect x="430" y="0" width="1" height="14" fill="#a0a0a0"/><rect x="431" y="0" width="1" height="14" fill="#ffffff"/><rect x="434" y="0" width="1" height="14" fill="#a0a0a0"/><rect x="435" y="0" width="1" height="14" fill="#ffffff"/><rect x="443" y="0" width="1" height="12" fill="#404040"/><rect x="441" y="10" width="14" height="1" fill="#404040"/></g><polygon points="448,1 453,4.5 448,8" fill="#20b020"/><g shape-rendering="crispEdges"><rect x="463" y="0" width="1" height="14" fill="#a0a0a0"/><rect x="464" y="0" width="1" height="14" fill="#ffffff"/><rect x="471" y="0" width="1" height="12" fill="#404040"/><rect x="469" y="10" width="14" height="1" fill="#404040"/><rect x="477" y="0" width="1" height="9" fill="#2060c0"/><rect x="479" y="4" width="4" height="1" fill="#e04010"/><rect x="479" y="3" width="1" height="3" fill="#e04010"/><rect x="492" y="0" width="1" height="14" fill="#a0a0a0"/><rect x="493" y="0" width="1" height="14" fill="#ffffff"/><rect x="502.5" y="0.5" width="9" height="10" fill="#fff" stroke="#707070"/><rect x="509" y="4" width="4" height="12" fill="#0a9a0a"/><rect x="505" y="8" width="12" height="4" fill="#0a9a0a"/><rect x="510" y="5" width="2" height="10" fill="#22dd22"/><rect x="506" y="9" width="10" height="2" fill="#22dd22"/></g><polygon points="523,4.2 529,4.2 526,7.2" fill="#000"/><circle cx="548" cy="4.5" r="7.8" fill="#1c68d0"/><circle cx="548" cy="4.5" r="5.6" fill="#f2f6fa"/><path d="M547.5 1.5v3.3h2.8" stroke="#333" stroke-width="1" fill="none"/><polygon points="562,4.2 568,4.2 565,7.2" fill="#000"/><g shape-rendering="crispEdges"><rect x="579.5" y="0.5" width="15" height="11" fill="#fff" stroke="#2868b8"/><rect x="580" y="5" width="14" height="1" fill="#2868b8"/></g><path d="M581 4l2.5-1 2 0.5 2-1.5 2 1 2.5-1" stroke="#a03020" fill="none" stroke-width="1"/><path d="M581 9.5l2.5-1 2 0.5 2.5-2 2 2.2 2-1.5" stroke="#30a030" fill="none" stroke-width="1"/><polygon points="601,4.2 607,4.2 604,7.2" fill="#000"/><g shape-rendering="crispEdges"><rect x="613" y="0" width="1" height="14" fill="#a0a0a0"/><rect x="614" y="0" width="1" height="14" fill="#ffffff"/><rect x="617" y="1" width="3" height="1" fill="#b8b8b8"/><rect x="617" y="3" width="3" height="1" fill="#b8b8b8"/><rect x="617" y="5" width="3" height="1" fill="#b8b8b8"/><rect x="617" y="7" width="3" height="1" fill="#b8b8b8"/><rect x="617" y="9" width="3" height="1" fill="#b8b8b8"/><rect x="617" y="11" width="3" height="1" fill="#b8b8b8"/><rect x="617" y="13" width="3" height="1" fill="#b8b8b8"/><rect x="623" y="0" width="1" height="14" fill="#a0a0a0"/><rect x="624" y="0" width="1" height="14" fill="#ffffff"/><rect x="625" y="0" width="23" height="14" fill="#f6f6f6"/></g><polygon points="631,0 631,9 633.5,7 635.5,11 637,10.5 635,6.5 638.5,6.5" fill="#505050"/><g shape-rendering="crispEdges"><rect x="663" y="0" width="1" height="12" fill="#505050"/><rect x="656" y="5" width="15" height="1" fill="#505050"/><rect x="663" y="5" width="1" height="1" fill="#f0f0f0"/><rect x="680" y="0" width="1" height="14" fill="#a0a0a0"/><rect x="681" y="0" width="1" height="14" fill="#ffffff"/><rect x="697" y="1" width="1" height="11" fill="#505050"/><rect x="719" y="5" width="12" height="1" fill="#505050"/></g><line x1="748" y1="12" x2="760" y2="0" stroke="#505050" stroke-width="1"/><path d="M774 10l8-9M777 12l8-9M780 13l7-8" stroke="#505050" stroke-width="1" fill="none"/><path d="M775 5h12M774 8h12" stroke="#505050" stroke-width="0.8" stroke-dasharray="1,1" fill="none"/><text x="785" y="14" font-size="6.5" fill="#303030" font-weight="bold" >E</text><g fill="#505050" shape-rendering="crispEdges"><rect x="803" y="1" width="1" height="1"/><rect x="805" y="1" width="1" height="1"/><rect x="807" y="1" width="1" height="1"/><rect x="809" y="1" width="1" height="1"/><rect x="811" y="1" width="1" height="1"/><rect x="813" y="1" width="1" height="1"/><rect x="815" y="1" width="1" height="1"/><rect x="803" y="4" width="1" height="1"/><rect x="805" y="4" width="1" height="1"/><rect x="807" y="4" width="1" height="1"/><rect x="809" y="4" width="1" height="1"/><rect x="811" y="4" width="1" height="1"/><rect x="813" y="4" width="1" height="1"/><rect x="815" y="4" width="1" height="1"/><rect x="803" y="7" width="1" height="1"/><rect x="805" y="7" width="1" height="1"/><rect x="807" y="7" width="1" height="1"/><rect x="809" y="7" width="1" height="1"/><rect x="811" y="7" width="1" height="1"/><rect x="813" y="7" width="1" height="1"/><rect x="815" y="7" width="1" height="1"/><rect x="803" y="10" width="1" height="1"/><rect x="805" y="10" width="1" height="1"/><rect x="807" y="10" width="1" height="1"/><rect x="809" y="10" width="1" height="1"/><rect x="811" y="10" width="1" height="1"/></g><text x="812" y="14.5" font-size="6.5" fill="#303030" font-weight="bold" >F</text><text x="833.5" y="10" font-size="11.5" fill="#5a5a5a"  stroke="#5a5a5a" stroke-width="0.6">A</text><rect x="860.5" y="0.5" width="11" height="11" fill="none" stroke="#707070" stroke-dasharray="1,1" shape-rendering="crispEdges"/><text x="862" y="10" font-size="10" fill="#505050" font-weight="bold" >T</text><polygon points="887,3 890,0 893,3" fill="#404040"/><path d="M887 5l3 3 5-5" stroke="#404040" stroke-width="1.3" fill="none"/><polygon points="894,9 897,6 900,9 897,11" fill="#404040"/><polygon points="907,4.2 913,4.2 910,7.2" fill="#000"/><g shape-rendering="crispEdges"><rect x="919" y="0" width="1" height="14" fill="#a0a0a0"/><rect x="920" y="0" width="1" height="14" fill="#ffffff"/><rect x="923" y="1" width="3" height="1" fill="#b8b8b8"/><rect x="923" y="3" width="3" height="1" fill="#b8b8b8"/><rect x="923" y="5" width="3" height="1" fill="#b8b8b8"/><rect x="923" y="7" width="3" height="1" fill="#b8b8b8"/><rect x="923" y="9" width="3" height="1" fill="#b8b8b8"/><rect x="923" y="11" width="3" height="1" fill="#b8b8b8"/><rect x="923" y="13" width="3" height="1" fill="#b8b8b8"/><rect x="1070" y="0" width="25" height="14" fill="#f6f6f6"/><rect x="1069" y="0" width="1" height="14" fill="#a0a0a0"/><rect x="1070" y="0" width="1" height="14" fill="#ffffff"/><rect x="1180" y="0" width="1" height="14" fill="#a0a0a0"/><rect x="1181" y="0" width="1" height="14" fill="#ffffff"/></g><text x="935" y="8.7" font-size="9" fill="#404040" textLength="12" lengthAdjust="spacingAndGlyphs" >M1</text><text x="962" y="8.7" font-size="9" fill="#404040" textLength="13.5" lengthAdjust="spacingAndGlyphs" >M5</text><text x="989" y="8.7" font-size="9" fill="#404040" textLength="17.5" lengthAdjust="spacingAndGlyphs" >M15</text><text x="1017" y="8.7" font-size="9" fill="#404040" textLength="17.5" lengthAdjust="spacingAndGlyphs" >M30</text><text x="1048" y="8.7" font-size="9" fill="#404040" textLength="11" lengthAdjust="spacingAndGlyphs" >H1</text><text x="1074" y="8.7" font-size="9" fill="#404040" textLength="12.5" lengthAdjust="spacingAndGlyphs" >H4</text><text x="1103" y="8.7" font-size="9" fill="#404040" textLength="12" lengthAdjust="spacingAndGlyphs" >D1</text><text x="1131" y="8.7" font-size="9" fill="#404040" textLength="14" lengthAdjust="spacingAndGlyphs" >W1</text><text x="1158" y="8.7" font-size="9" fill="#404040" textLength="14.5" lengthAdjust="spacingAndGlyphs" >MN</text><circle cx="1651.5" cy="2.5" r="3.5" fill="none" stroke="#3070d0" stroke-width="1.6"/><line x1="1648.5" y1="5.5" x2="1643.5" y2="10" stroke="#2060c0" stroke-width="2.4"/><ellipse cx="1673" cy="8" rx="6" ry="4.5" fill="#e4e4ea" stroke="#a8a8a8" stroke-width="1"/><polygon points="1670,11 1671,14 1674,11" fill="#a8a8a8"/><circle cx="1682" cy="2.3" r="7.8" fill="#dc3414"/><rect x="1681.3" y="0" width="1.4" height="6.5" fill="#fff"/><rect x="1679.2" y="6.3" width="5.6" height="1.2" fill="#fff"/>
<rect x="1694" y="19" width="1" height="919" fill="#dcdcdc"/>
</svg></body></html>
